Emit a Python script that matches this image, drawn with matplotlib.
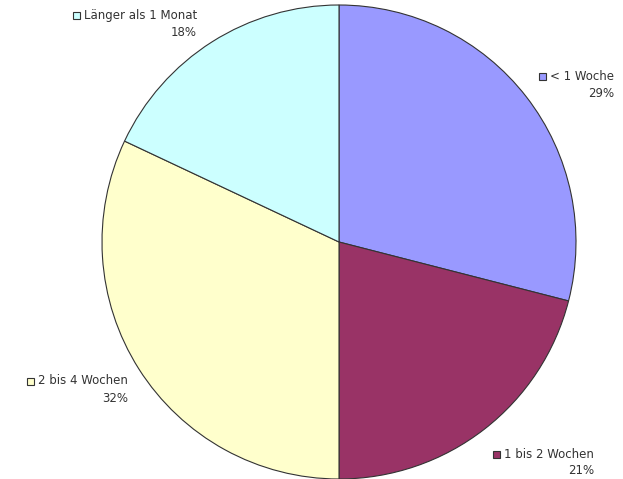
import matplotlib
matplotlib.use("Agg")
import matplotlib.pyplot as plt
from matplotlib.patches import Rectangle

categories = ["< 1 Woche", "1 bis 2 Wochen", "2 bis 4 Wochen", "Länger als 1 Monat"]
values = [29, 21, 32, 18]
colors = ["#9999FF", "#993366", "#FFFFCC", "#CCFFFF"]

W, H = 623, 479
fig = plt.figure(figsize=(W / 100, H / 100), dpi=100)
ax = fig.add_axes([0, 0, 1, 1])
ax.set_xlim(0, W)
ax.set_ylim(0, H)
ax.set_aspect("equal")
ax.axis("off")

cx, cy, r = 339, H - 242, 237
ax.pie(values, colors=colors, startangle=90, counterclock=False,
       center=(cx, cy), radius=r, frame=True,
       wedgeprops=dict(edgecolor="#333333", linewidth=0.8))
ax.set_xlim(0, W)
ax.set_ylim(0, H)
ax.axis("off")

# label positions (right edge x, first line y in pixel coords from top)
label_pos = {
    "< 1 Woche": (614, 76),
    "1 bis 2 Wochen": (594, 454),
    "2 bis 4 Wochen": (128, 381),
    "Länger als 1 Monat": (197, 15),
}
fig.canvas.draw()
renderer = fig.canvas.get_renderer()
for cat, val, col in zip(categories, values, colors):
    xr, yt = label_pos[cat]
    t = ax.text(xr, H - yt, cat, ha="right", va="center", fontsize=8.5,
                family="DejaVu Sans", color="#333333")
    ax.text(xr, H - yt - 17, f"{val}%", ha="right", va="center", fontsize=8.5,
            family="DejaVu Sans", color="#333333")
    bb = t.get_window_extent(renderer=renderer)
    x0 = bb.x0
    sq = 7
    ax.add_patch(Rectangle((x0 - sq - 4, H - yt - sq / 2), sq, sq,
                           facecolor=col, edgecolor="#333333", linewidth=0.8,
                           clip_on=False))

fig.savefig("out.png", dpi=100)
